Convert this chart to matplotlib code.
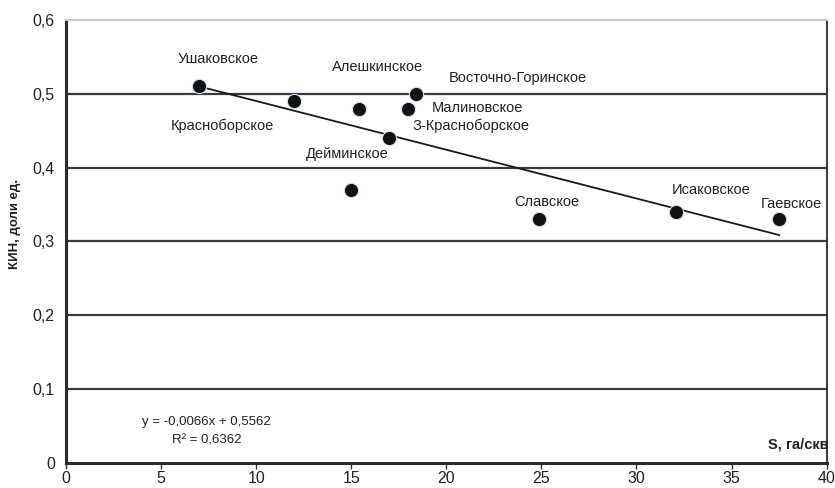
import matplotlib
matplotlib.use("Agg")
import matplotlib.pyplot as plt
import numpy as np

plt.rcParams['font.family'] = ['Liberation Sans', 'DejaVu Sans']

# Field data: well spacing S (ha/well) and oil recovery factor
fields = ["Ушаковское", "Красноборское", "Алешкинское", "З-Красноборское",
          "Дейминское", "Малиновское", "Восточно-Горинское", "Славское",
          "Исаковское", "Гаевское"]
s_values = [7.0, 12.0, 15.4, 17.0, 15.0, 18.0, 18.4, 24.9, 32.1, 37.5]
kin_values = [0.51, 0.49, 0.48, 0.44, 0.37, 0.48, 0.50, 0.33, 0.34, 0.33]

# Label anchor positions (data coords)
label_x = [8.0, 8.25, 16.4, 21.3, 14.8, 21.65, 23.75, 25.3, 33.95, 38.15]
label_y = [0.547, 0.457, 0.536, 0.457, 0.418, 0.481, 0.522, 0.353, 0.370, 0.351]

slope, intercept = -0.0066, 0.5562
r2 = 0.6362

y_ticks = [0, 0.1, 0.2, 0.3, 0.4, 0.5, 0.6]
y_ticklabels = ["0", "0,1", "0,2", "0,3", "0,4", "0,5", "0,6"]
x_ticks = [0, 5, 10, 15, 20, 25, 30, 35, 40]

fig = plt.figure(figsize=(8.35, 4.88), dpi=100)
ax = fig.add_axes([0.079, 0.0512, 0.911, 0.908])

ax.set_xlim(0, 40)
ax.set_ylim(0, 0.6)

# horizontal grid
for yv in y_ticks[1:-1]:
    ax.axhline(yv, color="#3a3a3a", lw=1.6, zorder=1)

# trend line
xl = np.array([min(s_values), max(s_values)])
ax.plot(xl, slope * xl + intercept, color="#1a1a1a", lw=1.3, zorder=2)

# points
ax.scatter(s_values, kin_values, s=105, color="#111111", zorder=3,
           edgecolors="#cfe0f0", linewidths=0.8)

for name, lx, ly in zip(fields, label_x, label_y):
    ax.text(lx, ly, name, ha="center", va="center", fontsize=10.5, color="#222222")

ax.text(7.4, 0.056, "y = -0,0066x + 0,5562", ha="center", va="center",
        fontsize=9.5, color="#222222")
ax.text(7.4, 0.030, f"R² = {r2:.4f}".replace(".", ","), ha="center", va="center",
        fontsize=9.5, color="#222222")

ax.set_yticks(y_ticks)
ax.set_yticklabels(y_ticklabels, fontsize=11.5, color="#222222")
ax.set_xticks(x_ticks)
ax.set_xticklabels([str(v) for v in x_ticks], fontsize=11.5, color="#222222")
ax.tick_params(axis="y", length=0, pad=8)
ax.tick_params(axis="x", length=4, width=1, color="#333333", pad=2, direction="out")

for side in ["left", "bottom"]:
    ax.spines[side].set_linewidth(2.2)
    ax.spines[side].set_color("#2a2a2a")
ax.spines["right"].set_linewidth(1.3)
ax.spines["right"].set_color("#2a2a2a")
ax.spines["top"].set_linewidth(1.5)
ax.spines["top"].set_color("#c8c8c8")

fig.text(0.018, 0.541, "КИН, доли ед.", rotation=90, ha="center", va="center",
         fontsize=9.5, fontweight="bold", color="#222222")
ax.text(40.1, 0.025, "S, га/скв", ha="right", va="center", fontsize=10.5,
        fontweight="bold", color="#222222")

fig.savefig("out.png", dpi=100)
